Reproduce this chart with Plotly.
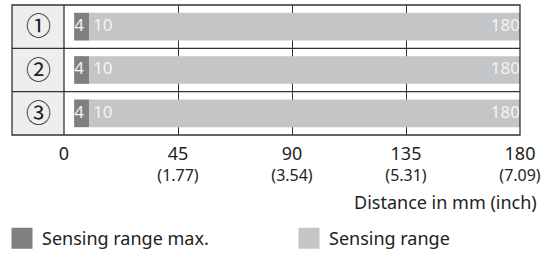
import plotly.graph_objects as go

rows = ["①", "②", "③"]
max_start = [4, 4, 4]
range_start = [10, 10, 10]
range_end = [180, 180, 180]
tick_mm = [0, 45, 90, 135, 180]
tick_inch = ["", "(1.77)", "(3.54)", "(5.31)", "(7.09)"]
legend_names = ["Sensing range max.", "Sensing range"]
x_title = "Distance in mm (inch)"

DARK = "#808080"
LIGHT = "#c4c5c7"
FONT = "Noto Sans"

W, H = 553, 257
L, R, T, B = 64, 33, 5, 122
pw = W - L - R
ph = H - T - B

def px_x(p):
    return (p - L) / pw

def px_y(p):
    return (H - B - p) / ph

fig = go.Figure()

fig.add_trace(go.Bar(
    y=rows, x=[a - b for a, b in zip(range_start, max_start)], base=max_start,
    orientation="h", marker=dict(color=DARK, line=dict(width=0)), width=0.64,
    showlegend=False, hoverinfo="skip"))
fig.add_trace(go.Bar(
    y=rows, x=[a - b for a, b in zip(range_end, range_start)], base=range_start,
    orientation="h", marker=dict(color=LIGHT, line=dict(width=0)), width=0.64,
    showlegend=False, hoverinfo="skip"))

txtfont = dict(family=FONT, size=17, color="#f4f4f4")
fig.add_trace(go.Scatter(y=rows, x=max_start, mode="text", text=[str(v) for v in max_start],
                         textposition="middle right", textfont=txtfont, showlegend=False, hoverinfo="skip"))
fig.add_trace(go.Scatter(y=rows, x=[v + 1.5 for v in range_start], mode="text", text=[str(v) for v in range_start],
                         textposition="middle right", textfont=txtfont, showlegend=False, hoverinfo="skip"))
fig.add_trace(go.Scatter(y=rows, x=range_end, mode="text", text=[str(v) for v in range_end],
                         textposition="middle left", textfont=txtfont, showlegend=False, hoverinfo="skip"))

# legend entries (two separate legends to place them freely)
for name, col, lg in zip(legend_names, [DARK, LIGHT], ["legend", "legend2"]):
    fig.add_trace(go.Scatter(x=[None], y=[None], mode="markers", name=name, legend=lg,
                             marker=dict(symbol="square", size=16, color=col, line=dict(color=col, width=5))))

ticktext = []
for m, i in zip(tick_mm, tick_inch):
    ticktext.append(f"<span style='font-size:18px'>{m}</span><br>"
                    f"<span style='font-size:16px'>{i if i else ' '}</span>")

fig.update_xaxes(range=[0, 180], tickvals=tick_mm, ticktext=ticktext, showgrid=True,
                 gridcolor="#333333", gridwidth=1, zeroline=False, showline=False,
                 tickfont=dict(family=FONT, size=16, color="#222222"),
                 ticks="outside", ticklen=5, tickcolor="rgba(0,0,0,0)", fixedrange=True)
fig.update_yaxes(categoryorder="array", categoryarray=rows, autorange="reversed",
                 showgrid=False, zeroline=False, showline=False, ticks="",
                 tickfont=dict(family="Noto Sans CJK JP", size=25, color="#222222"),
                 ticklabelstandoff=12)

shapes = [
    dict(type="rect", xref="paper", yref="paper", x0=px_x(12), x1=0, y0=0, y1=1,
         fillcolor="#eeeeee", line=dict(width=0), layer="below"),
    dict(type="rect", xref="paper", yref="paper", x0=px_x(12), x1=1, y0=0, y1=1,
         line=dict(color="#333333", width=1.3), layer="above"),
    dict(type="line", xref="paper", yref="paper", x0=0, x1=0, y0=0, y1=1,
         line=dict(color="#333333", width=1.3), layer="above"),
]
for yb in [0.5, 1.5]:
    shapes.append(dict(type="line", xref="paper", yref="y", x0=px_x(12), x1=1, y0=yb, y1=yb,
                       line=dict(color="#333333", width=1.3), layer="above"))

legfont = dict(family=FONT, size=18, color="#222222")
fig.update_layout(
    width=W, height=H, margin=dict(l=L, r=R, t=T, b=B, autoexpand=False),
    paper_bgcolor="white", plot_bgcolor="white", barmode="overlay",
    shapes=shapes,
    font=dict(family=FONT, color="#222222"),
    legend=dict(orientation="h", x=px_x(2), xanchor="left", y=px_y(220), yanchor="top",
                font=legfont, itemclick=False, bgcolor="rgba(0,0,0,0)"),
    legend2=dict(orientation="h", x=px_x(289), xanchor="left", y=px_y(220), yanchor="top",
                 font=legfont, itemclick=False, bgcolor="rgba(0,0,0,0)"),
    annotations=[dict(text=x_title, xref="paper", yref="paper", x=px_x(539), y=px_y(202),
                      xanchor="right", yanchor="middle", showarrow=False,
                      font=dict(family=FONT, size=18, color="#222222"))],
)

fig.write_html("out.html", post_script="document.body.style.margin='0';",
               config={"displayModeBar": False})
